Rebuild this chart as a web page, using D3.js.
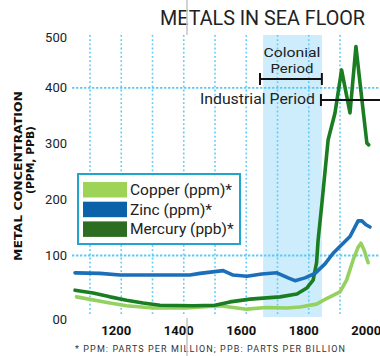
<!DOCTYPE html>
<html><head><meta charset="utf-8">
<script src="https://cdn.jsdelivr.net/npm/d3@7"></script>
<style>html,body{margin:0;padding:0;background:#fff}svg{display:block}</style>
</head><body>
<script>
// ---- data ----
const yTicks = [0, 100, 200, 300, 400, 500];
const yTickLabels = ["00", "100", "200", "300", "400", "500"];
const yGridValues = [100, 400];
const xTicks = [1200, 1400, 1600, 1800, 2000];
const xGridYears = [1100, 1200, 1300, 1400, 1500, 1600, 1700, 1800, 1900];

const copperYears  = [1057,1164,1217,1302,1409,1516,1601,1665,1729,1772,1825,1857,1900,1921,1942,1958,1967,1977,1990];
const copperValues = [26,15,10,6,6,10,4,7,6,8,13,23,35,56,92,115,122,110,87];

const zincYears  = [1052,1132,1196,1292,1420,1452,1526,1558,1602,1650,1698,1734,1756,1788,1820,1852,1878,1932,1958,1970,1983,1996];
const zincValues = [69,68,65,65,65,68,73,65,63,67,69,60,55,60,68,85,104,134,162,162,155,151];

const mercuryYears  = [1052,1110,1164,1217,1270,1324,1430,1500,1548,1612,1708,1762,1794,1814,1825,1830,1841,1862,1884,1905,1932,1951,1969,1986,1992];
const mercuryValues = [38,33,26,20,15,11,10,11,17,22,26,31,42,56,87,128,187,307,355,432,355,474,384,301,298];

const seriesNames = ["Copper (ppm)*", "Zinc (ppm)*", "Mercury (ppb)*"];
const seriesLineColors = ["#94d160", "#1b6fb9", "#1b7d22"];
const seriesSwatchColors = ["#9dd457", "#0c62a8", "#2d6d21"];

const shadeYears = [1654, 1842];
const periodNames = [["Colonial", "Period"], ["Industrial Period"]];
const periodStarts = [1644, 1839];
const periodEnds = [1842, 2040];

const title = "METALS IN SEA FLOOR";
const yTitle = ["METAL CONCENTRATION", "(PPM, PPB)"];
const footnote = "* PPM: PARTS PER MILLION; PPB: PARTS PER BILLION";

// ---- layout ----
const W = 380, H = 356;
const plotTop = 35, plotBottom = 317;
const x = d3.scaleLinear().domain([1100, 1900]).range([90, 340]);
const y = d3.scaleLinear().domain([0, 500]).range([311.4, 31.9]);
const font = "Roboto, 'DejaVu Sans', sans-serif";

const svg = d3.select("body").append("svg").attr("width", W).attr("height", H)
  .style("font-family", font);

// shaded colonial region
svg.append("rect")
  .attr("x", x(shadeYears[0])).attr("y", plotTop)
  .attr("width", x(shadeYears[1]) - x(shadeYears[0]))
  .attr("height", plotBottom - plotTop)
  .attr("fill", "#cdedfc");

// grid
const gridColor = "#62c9f3";
svg.append("g").selectAll("line").data(xGridYears).join("line")
  .attr("x1", d => x(d)).attr("x2", d => x(d))
  .attr("y1", plotTop).attr("y2", plotBottom - 2)
  .attr("stroke", gridColor).attr("stroke-width", 1.6)
  .attr("stroke-dasharray", "1.8,2.4");
svg.append("g").selectAll("line").data(yGridValues).join("line")
  .attr("x1", 72).attr("x2", W)
  .attr("y1", d => y(d)).attr("y2", d => y(d))
  .attr("stroke", gridColor).attr("stroke-width", 1.8)
  .attr("stroke-dasharray", "2.4,1.6");

// y tick labels
svg.append("g").selectAll("text").data(yTicks).join("text")
  .attr("x", 67)
  .attr("y", d => y(d) + (d === 0 ? 8 : d === 500 ? 6 : 0))
  .attr("dy", "0.35em")
  .attr("text-anchor", "end")
  .attr("font-size", 13).attr("fill", "#222")
  .text((d, i) => yTickLabels[i]);

// x tick labels
svg.append("g").selectAll("text").data(xTicks).join("text")
  .attr("x", d => x(d) - 5).attr("y", 335)
  .attr("text-anchor", "middle")
  .attr("font-size", 13).attr("font-weight", "bold").attr("fill", "#111")
  .text(d => d);

// lines
const lineGen = d3.line().x(d => x(d[0])).y(d => y(d[1])).curve(d3.curveLinear);
const series = [
  d3.zip(copperYears, copperValues),
  d3.zip(zincYears, zincValues),
  d3.zip(mercuryYears, mercuryValues)
];
const drawOrder = [0, 2, 1];
drawOrder.forEach(i => {
  svg.append("path").datum(series[i])
    .attr("d", lineGen)
    .attr("fill", "none")
    .attr("stroke", seriesLineColors[i])
    .attr("stroke-width", 3.6)
    .attr("stroke-linejoin", "round").attr("stroke-linecap", "round");
});

// period brackets
const bracketY = [79, 100];
periodStarts.forEach((s, i) => {
  const g = svg.append("g").attr("stroke", "#111").attr("stroke-width", 2);
  const x1 = x(s), x2 = Math.min(x(periodEnds[i]), W + 5);
  g.append("line").attr("x1", x1).attr("x2", x2).attr("y1", bracketY[i]).attr("y2", bracketY[i]);
  g.append("line").attr("x1", x1).attr("x2", x1).attr("y1", bracketY[i] - 6).attr("y2", bracketY[i] + 6);
  if (x(periodEnds[i]) < W) {
    g.append("line").attr("x1", x2).attr("x2", x2).attr("y1", bracketY[i] - 6).attr("y2", bracketY[i] + 6);
  }
});
// colonial labels
const colCx = (x(periodStarts[0]) + x(periodEnds[0])) / 2 + 1;
svg.append("text").attr("x", colCx).attr("y", 57)
  .attr("text-anchor", "middle").attr("font-size", 12.8).attr("fill", "#222")
  .attr("textLength", 57).attr("lengthAdjust", "spacingAndGlyphs")
  .text(periodNames[0][0]);
svg.append("text").attr("x", colCx).attr("y", 72.5)
  .attr("text-anchor", "middle").attr("font-size", 12.8).attr("fill", "#222")
  .attr("textLength", 43).attr("lengthAdjust", "spacingAndGlyphs")
  .text(periodNames[0][1]);
svg.append("text").attr("x", x(periodStarts[1]) - 6).attr("y", 104)
  .attr("text-anchor", "end").attr("font-size", 14.5).attr("fill", "#222")
  .attr("textLength", 115).attr("lengthAdjust", "spacingAndGlyphs")
  .text(periodNames[1][0]);

// legend
const lg = svg.append("g");
lg.append("rect").attr("x", 78).attr("y", 174).attr("width", 162).attr("height", 70)
  .attr("fill", "#fff").attr("stroke", "#1fa5cf").attr("stroke-width", 2);
seriesNames.forEach((n, i) => {
  const yy = 182 + i * 19.7;
  lg.append("rect").attr("x", 83).attr("y", yy).attr("width", 44).attr("height", 15.5)
    .attr("fill", seriesSwatchColors[i]);
  lg.append("text").attr("x", 130).attr("y", yy + 13)
    .attr("font-size", 15.5).attr("fill", "#222").text(n);
});

// title
svg.append("text").attr("x", 160).attr("y", 25)
  .attr("font-size", 21).attr("fill", "#222")
  .attr("textLength", 205).attr("lengthAdjust", "spacingAndGlyphs")
  .text(title);

// y axis title
svg.append("text").attr("transform", "translate(22,176) rotate(-90)")
  .attr("text-anchor", "middle").attr("font-size", 11).attr("font-weight", "bold")
  .attr("font-family", "'DejaVu Sans', sans-serif").attr("fill", "#111")
  .attr("textLength", 170).attr("lengthAdjust", "spacingAndGlyphs")
  .text(yTitle[0]);
svg.append("text").attr("transform", "translate(34,160) rotate(-90)")
  .attr("text-anchor", "middle").attr("font-size", 11).attr("font-weight", "bold")
  .attr("font-family", "'DejaVu Sans', sans-serif").attr("fill", "#111")
  .attr("textLength", 68).attr("lengthAdjust", "spacingAndGlyphs")
  .text(yTitle[1]);

// footnote
svg.append("text").attr("x", 75).attr("y", 352)
  .attr("font-size", 9).attr("fill", "#333")
  .attr("textLength", 270).attr("lengthAdjust", "spacing")
  .text(footnote);

// thin grey guide marks seen in the reference
svg.append("line").attr("x1", 187).attr("x2", 187).attr("y1", 0).attr("y2", 35)
  .attr("stroke", "#c4c4c4").attr("stroke-width", 1.5);
svg.append("line").attr("x1", 187).attr("x2", 187).attr("y1", 318).attr("y2", H)
  .attr("stroke", "#c4c4c4").attr("stroke-width", 1.5);
</script>
</body></html>
